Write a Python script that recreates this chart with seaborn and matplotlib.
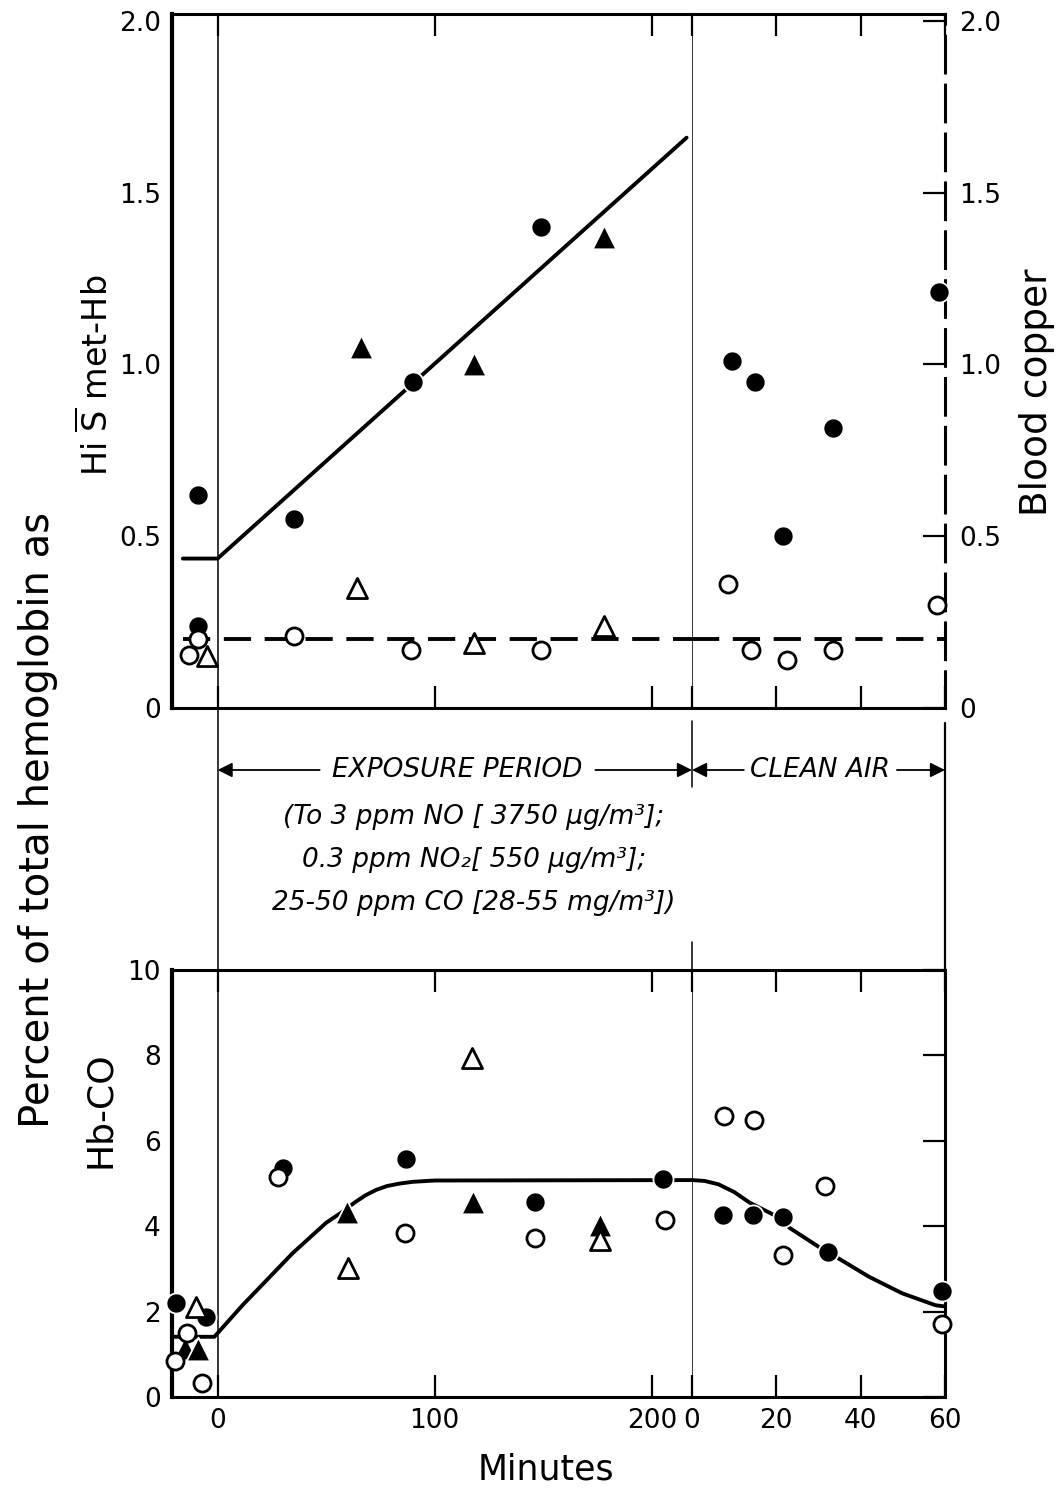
import matplotlib
matplotlib.use('Agg')
import matplotlib.pyplot as plt
import matplotlib.transforms as mtrans
from matplotlib.lines import Line2D
import seaborn as sns

# upper panel: Hi S met-Hb (% of total Hb), exposure minutes
met_fill_circ_t = [-9, -9, 35, 90, 149]
met_fill_circ_v = [0.62, 0.24, 0.55, 0.95, 1.40]
met_fill_tri_t = [66, 118, 178]
met_fill_tri_v = [1.05, 1.00, 1.37]
met_open_circ_t = [-13, -9, 35, 89, 149]
met_open_circ_v = [0.155, 0.20, 0.21, 0.17, 0.17]
met_open_tri_t = [-5, 64, 118, 178]
met_open_tri_v = [0.15, 0.35, 0.19, 0.24]
met_fit_t = [-16, 0, 216]
met_fit_v = [0.435, 0.435, 1.66]
copper_base_t = [-16, 218.5]
copper_base_v = [0.2, 0.2]

# upper panel, clean air minutes
clean_met_fill_t = [9.5, 15, 21.5, 33.5, 58.5]
clean_met_fill_v = [1.01, 0.95, 0.50, 0.815, 1.21]
clean_met_open_t = [8.5, 14, 22.5, 33.5, 58]
clean_met_open_v = [0.36, 0.17, 0.14, 0.17, 0.30]
clean_base_t = [0, 60]
clean_base_v = [0.2, 0.2]

# lower panel: Hb-CO (%), exposure minutes
co_fill_circ_t = [-19, -5.5, 30, 87, 146, 205]
co_fill_circ_v = [2.2, 1.87, 5.37, 5.57, 4.56, 5.1]
co_fill_tri_t = [-15, -9, 59.5, 117.5, 176]
co_fill_tri_v = [1.15, 1.12, 4.33, 4.57, 4.03]
co_open_circ_t = [-19.5, -14, -7, 28, 86.5, 146, 206]
co_open_circ_v = [0.84, 1.5, 0.33, 5.15, 3.84, 3.73, 4.15]
co_open_tri_t = [-10, 60, 117, 176]
co_open_tri_v = [2.1, 3.02, 7.94, 3.68]
co_fit_t = [-21, -1.5, 11.5, 34.6, 50, 57, 63, 68, 73, 78, 84, 90, 100, 218.5]
co_fit_v = [1.41, 1.41, 2.15, 3.37, 4.08, 4.32, 4.55, 4.72, 4.85, 4.94, 5.0, 5.04, 5.07, 5.08]

# lower panel, clean air minutes
clean_co_fill_t = [7.3, 14.5, 21.6, 32.2, 59.2]
clean_co_fill_v = [4.26, 4.26, 4.22, 3.4, 2.48]
clean_co_open_t = [7.6, 14.7, 21.6, 31.5, 59.2]
clean_co_open_v = [6.58, 6.49, 3.33, 4.94, 1.71]
clean_co_fit_t = [0, 3, 6.3, 10, 13.7, 19.7, 23.3, 30, 34, 41.9, 49.8, 57.7, 60]
clean_co_fit_v = [5.08, 5.06, 4.98, 4.8, 4.55, 4.25, 3.95, 3.52, 3.29, 2.82, 2.43, 2.15, 2.12]

met_ticks = [0, 0.5, 1.0, 1.5, 2.0]
met_ticklabels = ['0', '0.5', '1.0', '1.5', '2.0']
co_ticks = [0, 2, 4, 6, 8, 10]
exp_ticks = [0, 100, 200]
clean_ticks = [0, 20, 40, 60]

sns.set_theme(style='white')
plt.rcParams['font.family'] = ['DejaVu Sans']
plt.rcParams['mathtext.fontset'] = 'dejavusans'
plt.rcParams['text.color'] = 'black'

fig = plt.figure(figsize=(10.64, 14.91), dpi=100)
W, H = 1064, 1491
xl, xb, xr = 172 / W, 692 / W, 945 / W
top_y0, top_h = 1 - 708 / H, 694 / H
bot_y0, bot_h = 1 - 1397 / H, 427 / H

ax_tl = fig.add_axes([xl, top_y0, xb - xl, top_h])
ax_tr = fig.add_axes([xb, top_y0, xr - xb, top_h], sharey=ax_tl)
ax_bl = fig.add_axes([xl, bot_y0, xb - xl, bot_h])
ax_br = fig.add_axes([xb, bot_y0, xr - xb, bot_h], sharey=ax_bl)


def dots(ax, t, v, marker, filled):
    size = 210 if marker == 'o' else 290
    if filled:
        sns.scatterplot(x=t, y=v, ax=ax, marker=marker, s=size, color='black',
                        edgecolor='white', linewidth=1.3, zorder=5, clip_on=False)
    else:
        sns.scatterplot(x=t, y=v, ax=ax, marker=marker, s=size * 0.72, color='white',
                        edgecolor='black', linewidth=2.0, zorder=6, clip_on=False)


def curve(ax, t, v, dashed=False):
    ls = (0, (7, 3.5)) if dashed else '-'
    sns.lineplot(x=t, y=v, ax=ax, color='black', lw=2.8, linestyle=ls,
                 sort=False, estimator=None, zorder=3)


# upper panel
curve(ax_tl, met_fit_t, met_fit_v)
curve(ax_tl, copper_base_t, copper_base_v, dashed=True)
curve(ax_tr, clean_base_t, clean_base_v, dashed=True)
dots(ax_tl, met_fill_circ_t, met_fill_circ_v, 'o', True)
dots(ax_tl, met_fill_tri_t, met_fill_tri_v, '^', True)
dots(ax_tl, met_open_circ_t, met_open_circ_v, 'o', False)
dots(ax_tl, met_open_tri_t, met_open_tri_v, '^', False)
dots(ax_tr, clean_met_fill_t, clean_met_fill_v, 'o', True)
dots(ax_tr, clean_met_open_t, clean_met_open_v, 'o', False)

# lower panel
curve(ax_bl, co_fit_t, co_fit_v)
curve(ax_br, clean_co_fit_t, clean_co_fit_v)
dots(ax_bl, co_fill_circ_t, co_fill_circ_v, 'o', True)
dots(ax_bl, co_fill_tri_t, co_fill_tri_v, '^', True)
dots(ax_bl, co_open_circ_t, co_open_circ_v, 'o', False)
dots(ax_bl, co_open_tri_t, co_open_tri_v, '^', False)
dots(ax_br, clean_co_fill_t, clean_co_fill_v, 'o', True)
dots(ax_br, clean_co_open_t, clean_co_open_v, 'o', False)

ax_tl.set_ylim(0, 2.02)
ax_bl.set_ylim(0, 10)
for ax in (ax_tl, ax_bl):
    ax.set_xlim(-21, 218.5)
    ax.set_xticks(exp_ticks)
for ax in (ax_tr, ax_br):
    ax.set_xlim(0, 60)
    ax.set_xticks(clean_ticks)

for ax in (ax_tl, ax_tr, ax_bl, ax_br):
    ax.set_xlabel('')
    ax.set_ylabel('')
    ax.tick_params(direction='in', length=16, width=1.6, colors='black',
                   labelsize=19, top=True, bottom=True, pad=8)
    for s in ax.spines.values():
        s.set_color('black')
        s.set_linewidth(2.2)
    ax.axvline(0, color='black', lw=1.1, zorder=1)

for ax in (ax_tl, ax_bl):
    ax.spines['right'].set_visible(False)
    ax.spines['left'].set_linewidth(3.0)
for ax in (ax_tr, ax_br):
    ax.spines['left'].set_visible(False)
    ax.tick_params(axis='y', left=False, right=True, labelleft=False)

ax_tl.set_yticks(met_ticks)
ax_tl.set_yticklabels(met_ticklabels)
ax_tr.tick_params(axis='y', labelright=True, pad=10)
ax_tr.spines['right'].set_linestyle((0, (12, 4)))
ax_bl.set_yticks(co_ticks)
ax_br.tick_params(axis='y', labelright=False)

ax_tl.tick_params(axis='x', labelbottom=False)
ax_tr.tick_params(axis='x', labelbottom=False)
ax_bl.set_xticklabels([str(t) for t in exp_ticks])
ax_br.set_xticklabels([str(t) for t in clean_ticks])

# lines crossing the gap between panels
gap_lo, gap_hi = bot_y0 + bot_h, top_y0
tr_l = mtrans.blended_transform_factory(ax_tl.transData, fig.transFigure)
tr_r = mtrans.blended_transform_factory(ax_tr.transData, fig.transFigure)
fig.add_artist(Line2D([0, 0], [gap_lo, gap_hi], transform=tr_l, color='black', lw=1.1))
fig.add_artist(Line2D([60, 60], [gap_lo, gap_hi - 0.01], transform=tr_r, color='black', lw=1.6))
fig.add_artist(Line2D([0, 0], [1 - 787 / H, gap_hi - 0.009], transform=tr_r, color='black', lw=1.1))
fig.add_artist(Line2D([0, 0], [gap_lo, 1 - 942 / H], transform=tr_r, color='black', lw=1.1))

arrow_y = 1 - 770 / H
arrow_kw = dict(arrowstyle='-|>', color='black', lw=1.3, mutation_scale=22,
                shrinkA=0, shrinkB=0)
ax_tl.text(110.5, arrow_y, 'EXPOSURE PERIOD', transform=tr_l, ha='center',
           va='center', fontsize=19, fontstyle='italic')
ax_tl.annotate('', xy=(0, arrow_y), xytext=(47, arrow_y), xycoords=tr_l,
               textcoords=tr_l, arrowprops=arrow_kw)
ax_tl.annotate('', xy=(218.5, arrow_y), xytext=(174, arrow_y), xycoords=tr_l,
               textcoords=tr_l, arrowprops=arrow_kw)
ax_tr.text(30.3, arrow_y, 'CLEAN AIR', transform=tr_r, ha='center',
           va='center', fontsize=19, fontstyle='italic')
ax_tr.annotate('', xy=(0, arrow_y), xytext=(12.3, arrow_y), xycoords=tr_r,
               textcoords=tr_r, arrowprops=arrow_kw)
ax_tr.annotate('', xy=(60, arrow_y), xytext=(48.6, arrow_y), xycoords=tr_r,
               textcoords=tr_r, arrowprops=arrow_kw)

conditions = ['(To 3 ppm NO [ 3750 μg/m³];',
              '0.3 ppm NO₂[ 550 μg/m³];',
              '25-50 ppm CO [28-55 mg/m³])']
for i, line in enumerate(conditions):
    ax_tl.text(118, 1 - (817 + 43 * i) / H, line, transform=tr_l, ha='center',
               va='center', fontsize=19, fontstyle='italic')

fig.text(38 / W, 1 - 820 / H, 'Percent of total hemoglobin as', rotation=90,
         ha='center', va='center', fontsize=29)
fig.text(96 / W, 1 - 375 / H, r'Hi $\overline{\mathrm{S}}$ met-Hb', rotation=90,
         ha='center', va='center', fontsize=24)
fig.text(100 / W, 1 - 1110 / H, 'Hb-CO', rotation=90, ha='center', va='center',
         fontsize=26)
fig.text(1037 / W, 1 - 392 / H, 'Blood copper', rotation=90, ha='center',
         va='center', fontsize=27)
fig.text(546 / W, 1 - 1470 / H, 'Minutes', ha='center', va='center', fontsize=25)

fig.savefig('out.png', dpi=100, facecolor='white')
